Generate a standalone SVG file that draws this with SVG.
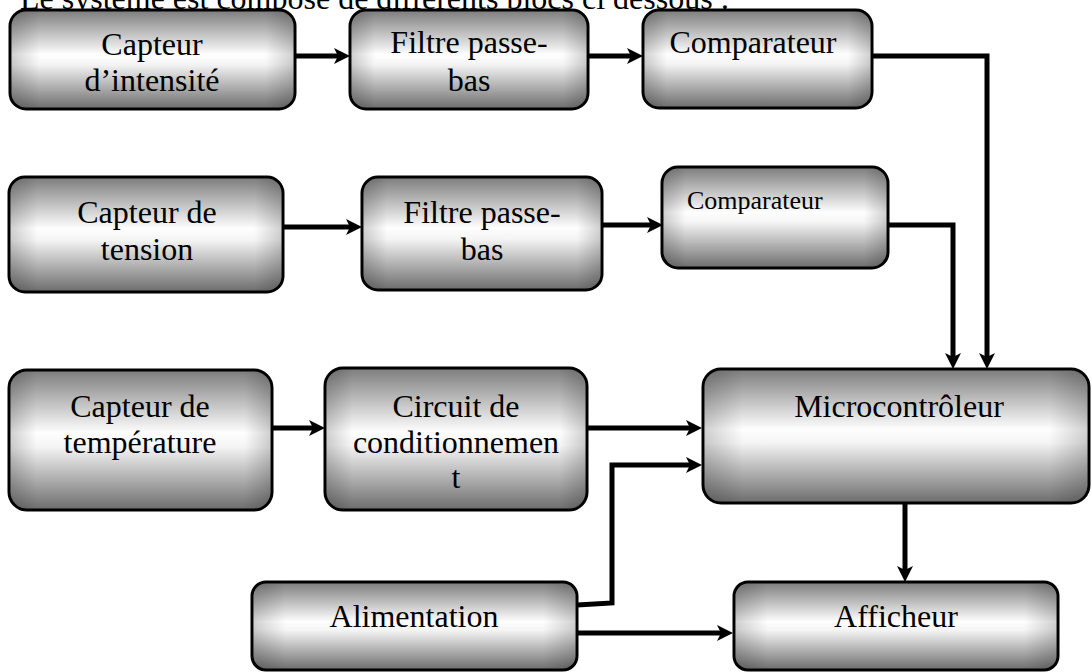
<svg xmlns="http://www.w3.org/2000/svg" width="1092" height="672" viewBox="0 0 1092 672">
<style>
.box{stroke:#000;stroke-width:3;fill:url(#g)}
.sh{fill:url(#h);stroke:none}
.t{font-family:"Liberation Serif","Times New Roman",serif;font-size:32px;fill:#000;text-anchor:middle}
.c{fill:none;stroke:#000;stroke-width:5;stroke-linejoin:miter;marker-end:url(#a)}
</style>
<defs>
<linearGradient id="g" x1="0" y1="0" x2="0" y2="1">
<stop offset="0" stop-color="#7c7c7c"/>
<stop offset="0.45" stop-color="#fefefe"/>
<stop offset="0.55" stop-color="#f4f4f4"/>
<stop offset="1" stop-color="#6c6c6c"/>
</linearGradient>
<linearGradient id="h" x1="0" y1="0" x2="1" y2="0">
<stop offset="0" stop-color="#000" stop-opacity="0.18"/>
<stop offset="0.1" stop-color="#000" stop-opacity="0"/>
<stop offset="0.9" stop-color="#000" stop-opacity="0"/>
<stop offset="1" stop-color="#000" stop-opacity="0.18"/>
</linearGradient>
<marker id="a" markerUnits="userSpaceOnUse" markerWidth="16" markerHeight="16" refX="6" refY="8" orient="auto" overflow="visible">
<path d="M0,0 L16,8 L0,16 L4,8 Z" fill="#000"/>
</marker>
</defs>
<rect width="1092" height="672" fill="#fff"/>
<text class="t" x="20" y="9" style="text-anchor:start">Le système est composé de différents blocs ci dessous :</text>
<g id="connectors">
<path class="c" d="M295,56 H340"/>
<path class="c" d="M588,56 H633"/>
<path class="c" d="M283,227 H352"/>
<path class="c" d="M602,225 H653"/>
<path class="c" d="M272,428 H315"/>
<path class="c" d="M587,428 H692"/>
<path class="c" d="M872,56 H987 V359"/>
<path class="c" d="M888,225 H953 V359"/>
<path class="c" d="M577,605 L612,603 V465 H692"/>
<path class="c" d="M577,633 H723"/>
<path class="c" d="M905,503 V572"/>
</g>
<g id="capteur-intensite">
<rect class="box" x="10" y="10" width="285" height="99" rx="16"/>
<rect class="sh" x="11.5" y="11.5" width="282" height="96" rx="15"/>
<text class="t" x="152" y="55">Capteur</text>
<text class="t" x="152" y="91">d’intensité</text>
</g>
<g id="filtre-1">
<rect class="box" x="350" y="10" width="238" height="99" rx="16"/>
<rect class="sh" x="351.5" y="11.5" width="235" height="96" rx="15"/>
<text class="t" x="469" y="53">Filtre passe-</text>
<text class="t" x="469" y="91">bas</text>
</g>
<g id="comparateur-1">
<rect class="box" x="643" y="10" width="229" height="98" rx="16"/>
<rect class="sh" x="644.5" y="11.5" width="226" height="95" rx="15"/>
<text class="t" x="753" y="53">Comparateur</text>
</g>
<g id="capteur-tension">
<rect class="box" x="9" y="177" width="274" height="115" rx="16"/>
<rect class="sh" x="10.5" y="178.5" width="271" height="112" rx="15"/>
<text class="t" x="147" y="223">Capteur de</text>
<text class="t" x="147" y="260">tension</text>
</g>
<g id="filtre-2">
<rect class="box" x="362" y="177" width="240" height="113" rx="16"/>
<rect class="sh" x="363.5" y="178.5" width="237" height="110" rx="15"/>
<text class="t" x="482" y="223">Filtre passe-</text>
<text class="t" x="482" y="260">bas</text>
</g>
<g id="comparateur-2">
<rect class="box" x="662" y="167" width="226" height="101" rx="16"/>
<rect class="sh" x="663.5" y="168.5" width="223" height="98" rx="15"/>
<text class="t" x="687" y="209" style="text-anchor:start;font-size:26px">Comparateur</text>
</g>
<g id="capteur-temperature">
<rect class="box" x="9" y="370" width="263" height="140" rx="18"/>
<rect class="sh" x="10.5" y="371.5" width="260" height="137" rx="17"/>
<text class="t" x="140" y="417">Capteur de</text>
<text class="t" x="140" y="453">température</text>
</g>
<g id="circuit-conditionnement">
<rect class="box" x="325" y="368" width="262" height="142" rx="18"/>
<rect class="sh" x="326.5" y="369.5" width="259" height="139" rx="17"/>
<text class="t" x="456" y="417">Circuit de</text>
<text class="t" x="456" y="453">conditionnemen</text>
<text class="t" x="456" y="488">t</text>
</g>
<g id="microcontroleur">
<rect class="box" x="703" y="369" width="386" height="134" rx="18"/>
<rect class="sh" x="704.5" y="370.5" width="383" height="131" rx="17"/>
<text class="t" x="899" y="417">Microcontrôleur</text>
</g>
<g id="alimentation">
<rect class="box" x="252" y="582" width="325" height="88" rx="14"/>
<rect class="sh" x="253.5" y="583.5" width="322" height="85" rx="13"/>
<text class="t" x="414" y="627">Alimentation</text>
</g>
<g id="afficheur">
<rect class="box" x="734" y="582" width="324" height="88" rx="14"/>
<rect class="sh" x="735.5" y="583.5" width="321" height="85" rx="13"/>
<text class="t" x="896" y="627">Afficheur</text>
</g>
</svg>
